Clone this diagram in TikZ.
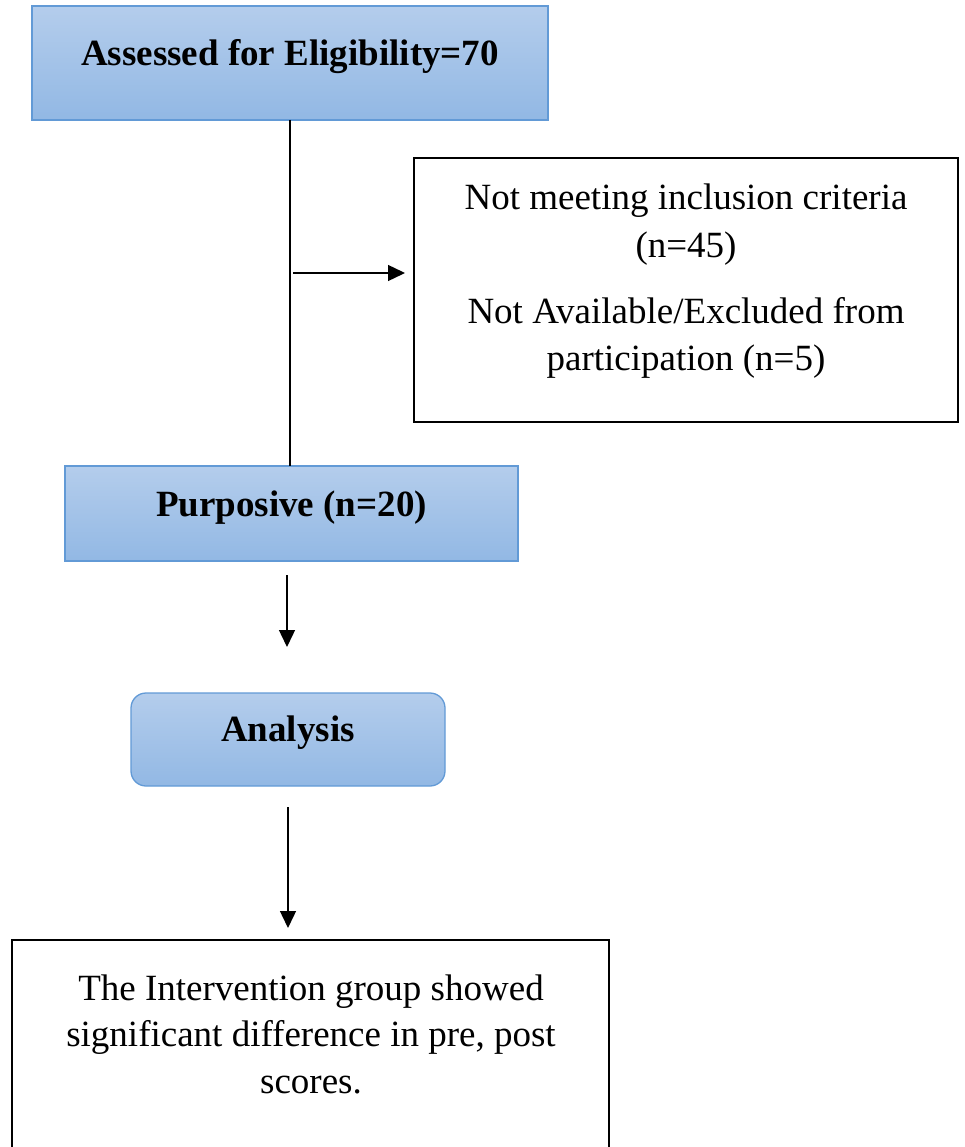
\documentclass[tikz,border=0pt]{standalone}
\usepackage{fontspec}
\setmainfont{Liberation Serif}
\usetikzlibrary{arrows.meta}
\definecolor{boxtop}{RGB}{180,205,236}
\definecolor{boxbot}{RGB}{146,184,228}
\definecolor{boxline}{RGB}{98,154,214}
\begin{document}
\begin{tikzpicture}[x=1pt,y=-1pt,
  bluebox/.style={draw=boxline, line width=1.3pt, top color=boxtop, bottom color=boxbot, inner sep=0pt, outer sep=0pt},
  plainbox/.style={draw=black, line width=2.6pt, fill=white, inner sep=0pt, outer sep=0pt},
  txt/.style={anchor=base, inner sep=0pt, font=\fontsize{37}{44}\selectfont},
  btxt/.style={anchor=base, inner sep=0pt, font=\fontsize{37}{44}\selectfont\bfseries},
  conn/.style={line width=1.4pt, black},
  arr/.style={line width=1.4pt, black, -{Triangle[length=17pt,width=16pt]}}]
\useasboundingbox (0,0) rectangle (964,1147);
% boxes
\node[bluebox, minimum width=516pt, minimum height=114pt] (top) at (290,63) {};
\node[plainbox, minimum width=544pt, minimum height=264pt] (excl) at (686,290) {};
\node[bluebox, minimum width=453pt, minimum height=95pt] (purp) at (291.5,513.5) {};
\node[bluebox, rounded corners=15pt, minimum width=314pt, minimum height=93pt] (anal) at (288,739.5) {};
\node[plainbox, minimum width=597pt, minimum height=220pt] (res) at (310.5,1050) {};
% texts
\node[btxt] (toptext) at (290,65.5) {Assessed for Eligibility=70};
\node[txt] (ex1) at (686,210) {Not meeting inclusion criteria};
\node[txt] (ex2) at (686,258) {(n=45)};
\node[txt] (ex3) at (686,323) {Not Available/Excluded from};
\node[txt] (ex4) at (686,370) {participation (n=5)};
\node[btxt] (purptext) at (291.5,516) {Purposive (n=20)};
\node[btxt] (analtext) at (288,741) {Analysis};
\node[txt] (res1) at (311,1000) {The Intervention group showed};
\node[txt] (res2) at (311,1046.5) {significant difference in pre, post};
\node[txt] (res3) at (311,1093) {scores.};
% connectors
\draw[conn] (top.south) -- (top.south |- purp.north);
\coordinate (h1) at (293,273);
\draw[arr, shorten >=9pt] (h1) -- (h1 -| excl.west);
\coordinate (p1) at (287,575);
\coordinate (p2) at (287,647);
\draw[arr] (p1) -- (p2);
\coordinate (q1) at (288,807);
\coordinate (q2) at (288,928);
\draw[arr] (q1) -- (q2);
\end{tikzpicture}
\end{document}
